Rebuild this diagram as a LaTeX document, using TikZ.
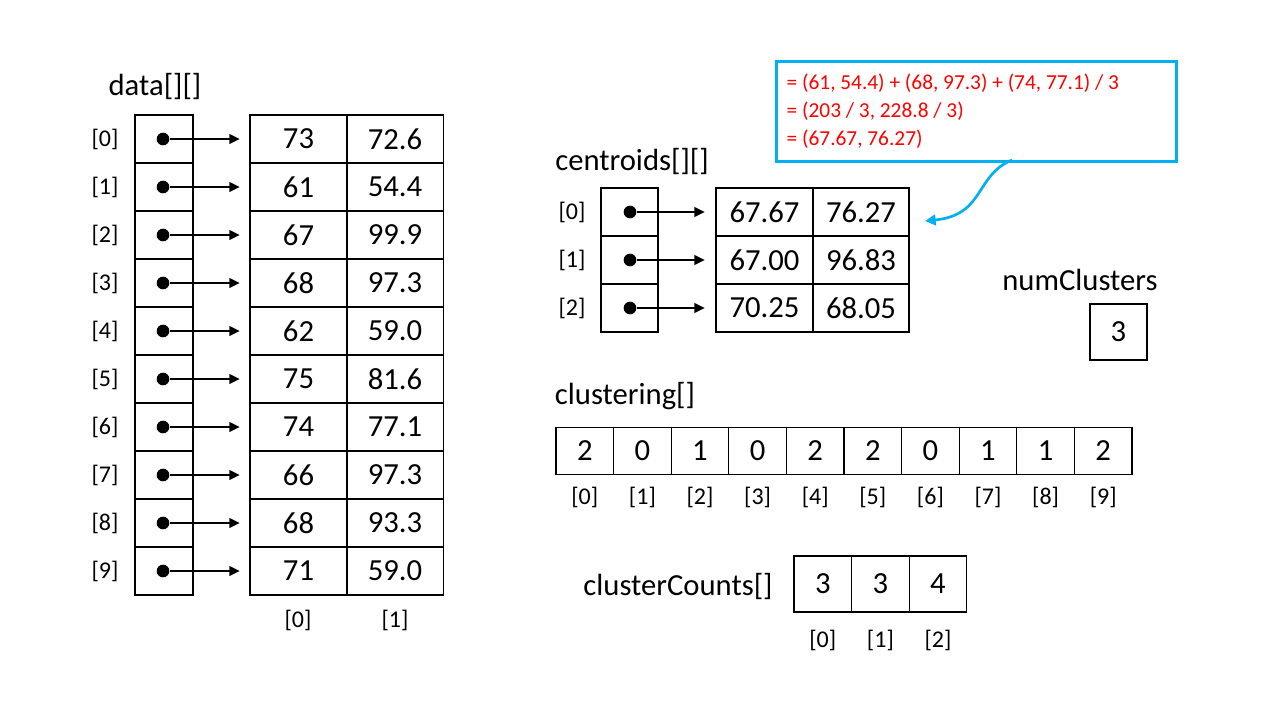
\documentclass[tikz,border=0pt]{standalone}
\usepackage{fontspec}
\setmainfont{Carlito}
\usetikzlibrary{arrows.meta}
\definecolor{cy}{RGB}{0,176,240}
\definecolor{rd}{RGB}{255,0,0}
\begin{document}
\begin{tikzpicture}[x=0.75pt,y=-0.75pt,
 cell/.style={draw,thick,minimum width=#1*0.75pt,inner sep=0,font=\fontsize{23}{26}\selectfont},
 idx/.style={font=\fontsize{18}{21}\selectfont},
 hdr/.style={font=\fontsize{23}{27}\selectfont},
 ptr/.style={-{Triangle[length=8pt,width=7pt]},line width=2pt},
 dot/.style={circle,fill,inner sep=0,minimum size=9.5pt}]
\useasboundingbox (0,0) rectangle (1280,720);
% data
\node[hdr] (dh) at (155,87) {data[][]};
\foreach \v/\w [count=\i from 0] in {73/72.6,61/54.4,67/99.9,68/97.3,62/59.0,75/81.6,74/77.1,66/97.3,68/93.3,71/59.0}{
  \pgfmathsetmacro\yy{139+48*\i}
  \node[cell=58,minimum height=36pt] (dp\i) at (164,\yy) {};
  \node[cell=97,minimum height=36pt] (da\i) at (298.5,\yy) {\v};
  \node[cell=97,minimum height=36pt] (db\i) at (395,\yy) {\w};
  \node[idx] (dl\i) at (105,\yy) {[\i]};
  \node[dot] (dd\i) at (163,\yy) {};
  \coordinate (de\i) at (240,\yy);
  \draw[ptr] (dd\i) -- (de\i);
}
\node[idx] (dx0) at (298,620) {[0]};
\node[idx] (dx1) at (395,620) {[1]};
% centroids
\node[hdr] (ch) at (632,162) {centroids[][]};
\foreach \v/\w [count=\i from 0] in {67.67/76.27,67.00/96.83,70.25/68.05}{
  \pgfmathsetmacro\yy{212+48*\i}
  \node[cell=57,minimum height=36pt] (cp\i) at (629.5,\yy) {};
  \node[cell=97,minimum height=36pt] (ca\i) at (764.5,\yy) {\v};
  \node[cell=96,minimum height=36pt] (cb\i) at (861,\yy) {\w};
  \node[idx] (cl\i) at (572,\yy) {[\i]};
  \node[dot] (cd\i) at (630,\yy) {};
  \coordinate (ce\i) at (705,\yy);
  \draw[ptr] (cd\i) -- (ce\i);
}
% callout
\node[draw=cy,line width=2.2pt,minimum width=300pt,minimum height=75pt,anchor=north west,inner sep=0] (cb) at (775,60) {};
\node[anchor=west,text=rd,font=\fontsize{16}{21}\selectfont,align=left] (ct) at (782,111) {= (61, 54.4) + (68, 97.3) + (74, 77.1) / 3\\= (203 / 3, 228.8 / 3)\\= (67.67, 76.27)};
\coordinate (cs) at (1012,160);
\coordinate (ctgt) at (925,221);
\draw[cy,line width=2pt,-{Triangle[length=8pt,width=8pt]}] (cs) .. controls (975,175) and (985,215) .. (ctgt);
% numClusters
\node[hdr] (nh) at (1080,280) {numClusters};
\node[cell=57,minimum height=42pt] (nb) at (1118.5,332) {3};
% clustering
\node[hdr] (kh) at (625,396) {clustering[]};
\foreach \v [count=\i from 0] in {2,0,1,0,2,2,0,1,1,2}{
  \pgfmathsetmacro\xx{584.8+57.6*\i}
  \node[cell=57.6,minimum height=35pt] (k\i) at (\xx,451) {\v};
  \node[idx] (kx\i) at (\xx,497) {[\i]};
}
% clusterCounts
\node[hdr] (qh) at (678,587) {clusterCounts[]};
\foreach \v [count=\i from 0] in {3,3,4}{
  \pgfmathsetmacro\xx{822.8+57.6*\i}
  \node[cell=57.6,minimum height=42pt] (q\i) at (\xx,584) {\v};
  \node[idx] (qx\i) at (\xx,640) {[\i]};
}
\end{tikzpicture}
\end{document}
